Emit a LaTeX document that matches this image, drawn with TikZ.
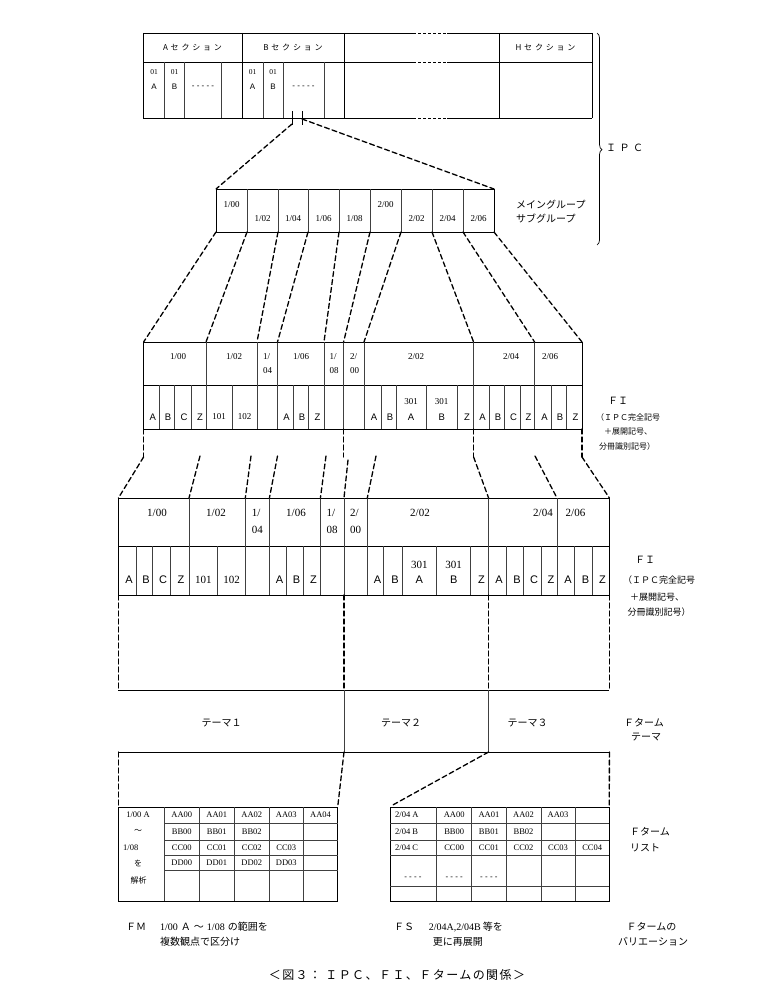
\documentclass[tikz,border=0pt]{standalone}
\usepackage{fontspec}
\setmainfont{Liberation Serif}
\setsansfont{Liberation Sans}
\newfontfamily\jp{Noto Sans CJK JP}
\newfontfamily\jpwide[LetterSpace=35]{Noto Sans CJK JP}
\newfontfamily\jpcap[LetterSpace=12]{Noto Sans CJK JP}
\usepackage{tikz}
\usepackage{tkz-euclide}
\usetikzlibrary{decorations.pathreplacing}

\begin{document}
\begin{tikzpicture}[x=1pt, y=-1pt,
    tabline/.style={line width=0.9pt},
    cellline/.style={line width=0.6pt, black!75},
    gapline/.style={line width=0.6pt, dash pattern=on 3pt off 2pt},
    cutline/.style={line width=1.3pt, dash pattern=on 5pt off 3pt},
    sec/.style={inner sep=0pt, font=\jpwide\fontsize{8}{9}\selectfont},
    tnum/.style={inner sep=0pt, font=\fontsize{7.5}{9}\selectfont},
    tlet/.style={inner sep=0pt, font=\sffamily\fontsize{8}{9}\selectfont},
    gnum/.style={inner sep=0pt, font=\fontsize{9}{9}\selectfont},
    num/.style={inner sep=0pt, align=left, font=\fontsize{9}{14}\selectfont},
    let/.style={inner sep=0pt, font=\sffamily\fontsize{9.5}{10}\selectfont},
    bnum/.style={inner sep=0pt, align=left, font=\fontsize{11}{17}\selectfont},
    blet/.style={inner sep=0pt, font=\sffamily\fontsize{11}{12}\selectfont},
    lst/.style={inner sep=0pt, font=\fontsize{8.5}{9}\selectfont},
    jsm/.style={inner sep=0pt, font=\jp\fontsize{8}{9}\selectfont},
    jmd/.style={inner sep=0pt, font=\jp\fontsize{9}{10}\selectfont},
    jlab/.style={inner sep=0pt, font=\jp\fontsize{10}{11}\selectfont},
    captxt/.style={inner sep=0pt, font=\jpcap\fontsize{12}{13}\selectfont}]
    \useasboundingbox (0,0) rectangle (757,990);

    \draw[tabline] (143,33) -- (413,33) (447,33) -- (592,33);
    \draw[tabline] (143,62) -- (413,62) (447,62) -- (592,62);
    \draw[tabline] (143,118) -- (413,118) (447,118) -- (592,118);
    \draw[gapline] (413,33) -- (447,33) (413,62) -- (447,62) (413,118) -- (447,118);
    \draw[tabline] (143,33) -- (143,118) (242,33) -- (242,118) (344,33) -- (344,118)
                 (499,33) -- (499,118) (592,33) -- (592,118);
    \draw[cellline] (164.5,62) -- (164.5,118) (184.5,62) -- (184.5,118) (221,62) -- (221,118)
                 (263,62) -- (263,118) (283,62) -- (283,118) (324,62) -- (324,118);
    \draw[tabline] (292,111) -- (292,125) (302,111) -- (302,125);

    \node[sec] (sa) at (192.5,47.5) {Aセクション};
    \node[sec] (sb) at (293,47.5) {Bセクション};
    \node[sec] (sh) at (545.5,47.5) {Hセクション};
    \node[tnum] (a1) at (154,72) {01};
    \node[tlet] (a2) at (154,87) {A};
    \node[tnum] (a3) at (174.5,72) {01};
    \node[tlet] (a4) at (174.5,87) {B};
    \node[tlet] (a5) at (203,87) {- - - - -};
    \node[tnum] (b1) at (252.5,72) {01};
    \node[tlet] (b2) at (252.5,87) {A};
    \node[tnum] (b3) at (273,72) {01};
    \node[tlet] (b4) at (273,87) {B};
    \node[tlet] (b5) at (303.5,87) {- - - - -};

    \draw[decorate, decoration={brace, amplitude=5pt, aspect=0.55}, line width=0.7pt]
        (597,33) -- (597,245);
    \node[sec, font=\jpwide\fontsize{10}{11}\selectfont, anchor=west] (ipc) at (606,148) {ＩＰＣ};

    \draw[tabline] (216,189) rectangle (494,232);
    \draw[cellline] (247,189) -- (247,232) (278,189) -- (278,232) (308,189) -- (308,232)
                 (339,189) -- (339,232) (370,189) -- (370,232) (401,189) -- (401,232)
                 (432,189) -- (432,232) (463,189) -- (463,232);
    \node[gnum] (g1) at (231.5,205) {1/00};
    \node[gnum] (g2) at (262.5,219) {1/02};
    \node[gnum] (g3) at (293,219) {1/04};
    \node[gnum] (g4) at (323.5,219) {1/06};
    \node[gnum] (g5) at (354.5,219) {1/08};
    \node[gnum] (g6) at (385.5,205) {2/00};
    \node[gnum] (g7) at (416.5,219) {2/02};
    \node[gnum] (g8) at (447.5,219) {2/04};
    \node[gnum] (g9) at (478.5,219) {2/06};
    \node[jlab, anchor=west] (mg) at (516,205) {メイングループ};
    \node[jlab, anchor=west] (sg) at (516,219) {サブグループ};

    \draw[tabline] (143.6,342) rectangle (582,429);
    \draw[tabline] (143.6,385) -- (582,385);
    \draw[cellline] (206,342) -- (206,429) (257,342) -- (257,429) (277.5,342) -- (277.5,429)
                 (324,342) -- (324,429) (343.6,342) -- (343.6,429) (364,342) -- (364,429)
                 (473.6,342) -- (473.6,429) (534.6,342) -- (534.6,429);
    \draw[cellline] (159,385) -- (159,429) (174,385) -- (174,429) (191,385) -- (191,429)
                 (232,385) -- (232,429) (293,385) -- (293,429) (308,385) -- (308,429)
                 (381,385) -- (381,429) (396,385) -- (396,429) (426,385) -- (426,429)
                 (457.5,385) -- (457.5,429) (489,385) -- (489,429) (504,385) -- (504,429)
                 (520,385) -- (520,429) (551,385) -- (551,429) (566,385) -- (566,429);
    \node[num] (c1) at (178,357) {1/00};
    \node[num] (c2) at (234,357) {1/02};
    \node[num] (c3) at (267.5,364) {1/\\04};
    \node[num] (c4) at (301,357) {1/06};
    \node[num] (c5) at (334,364) {1/\\08};
    \node[num] (c6) at (354.5,364) {2/\\00};
    \node[num] (c7) at (416,357) {2/02};
    \node[num] (c8) at (511,357) {2/04};
    \node[num] (c9) at (550,357) {2/06};
    \node[let] (d1) at (152.8,417) {A};
    \node[let] (d2) at (168,417) {B};
    \node[let] (d3) at (184,417) {C};
    \node[let] (d4) at (200,417) {Z};
    \node[num] (d5) at (219,417) {101};
    \node[num] (d6) at (244.5,417) {102};
    \node[let] (d7) at (286.5,417) {A};
    \node[let] (d8) at (302,417) {B};
    \node[let] (d9) at (317.5,417) {Z};
    \node[let] (d10) at (374,417) {A};
    \node[let] (d11) at (390,417) {B};
    \node[num] (d12) at (411,402) {301};
    \node[let] (d13) at (411,417) {A};
    \node[num] (d14) at (441.7,402) {301};
    \node[let] (d15) at (441.7,417) {B};
    \node[let] (d16) at (467,417) {Z};
    \node[let] (d17) at (482.5,417) {A};
    \node[let] (d18) at (498,417) {B};
    \node[let] (d19) at (513.5,417) {C};
    \node[let] (d20) at (528.5,417) {Z};
    \node[let] (d21) at (544.5,417) {A};
    \node[let] (d22) at (560,417) {B};
    \node[let] (d23) at (575.5,417) {Z};
    \node[jlab] (fi) at (618,401) {ＦＩ};
    \node[jsm] (fi1) at (628,417) {（ＩＰＣ完全記号};
    \node[jsm] (fi2) at (628,432) {＋展開記号、};
    \node[jsm] (fi3) at (627,446) {分冊識別記号）};

    \draw[tabline] (118.4,498) rectangle (609.4,595);
    \draw[tabline] (118.4,546) -- (609.4,546);
    \draw[cellline] (189,498) -- (189,595) (245.3,498) -- (245.3,595) (269.4,498) -- (269.4,595)
                 (320.4,498) -- (320.4,595) (344,498) -- (344,595) (367.3,498) -- (367.3,595)
                 (488.6,498) -- (488.6,595) (557,498) -- (557,595);
    \draw[cellline] (136,546) -- (136,595) (152,546) -- (152,595) (170,546) -- (170,595)
                 (217.6,546) -- (217.6,595) (286,546) -- (286,595) (303,546) -- (303,595)
                 (383.7,546) -- (383.7,595) (402,546) -- (402,595) (436.7,546) -- (436.7,595)
                 (470.6,546) -- (470.6,595) (506,546) -- (506,595) (523.7,546) -- (523.7,595)
                 (540.8,546) -- (540.8,595) (574.7,546) -- (574.7,595) (592,546) -- (592,595);
    \node[bnum] (e1) at (157,513) {1/00};
    \node[bnum] (e2) at (216,513) {1/02};
    \node[bnum] (e3) at (257.3,521.5) {1/\\04};
    \node[bnum] (e4) at (296,513) {1/06};
    \node[bnum] (e5) at (332.2,521.5) {1/\\08};
    \node[bnum] (e6) at (355.6,521.5) {2/\\00};
    \node[bnum] (e7) at (420,513) {2/02};
    \node[bnum] (e8) at (543,513) {2/04};
    \node[bnum] (e9) at (575.5,513) {2/06};
    \node[blet] (f1) at (129,580) {A};
    \node[blet] (f2) at (146,580) {B};
    \node[blet] (f3) at (163,580) {C};
    \node[blet] (f4) at (181,580) {Z};
    \node[bnum] (f5) at (203.3,580) {101};
    \node[bnum] (f6) at (231.5,580) {102};
    \node[blet] (f7) at (279.5,580) {A};
    \node[blet] (f8) at (296.5,580) {B};
    \node[blet] (f9) at (313.5,580) {Z};
    \node[blet] (f10) at (377.5,580) {A};
    \node[blet] (f11) at (395,580) {B};
    \node[bnum] (f12) at (419.4,565) {301};
    \node[blet] (f13) at (419.4,580) {A};
    \node[bnum] (f14) at (453.7,565) {301};
    \node[blet] (f15) at (453.7,580) {B};
    \node[blet] (f16) at (481.5,580) {Z};
    \node[blet] (f17) at (499,580) {A};
    \node[blet] (f18) at (517,580) {B};
    \node[blet] (f19) at (534,580) {C};
    \node[blet] (f20) at (551,580) {Z};
    \node[blet] (f21) at (568,580) {A};
    \node[blet] (f22) at (585.5,580) {B};
    \node[blet] (f23) at (602.5,580) {Z};
    \node[jlab] (fj) at (645,560) {ＦＩ};
    \node[jmd] (fj1) at (659,580) {（ＩＰＣ完全記号};
    \node[jmd] (fj2) at (657,597) {＋展開記号、};
    \node[jmd] (fj3) at (659,612) {分冊識別記号）};

    \draw[tabline] (118.4,690) -- (609.4,690) (118.4,752) -- (609.4,752);
    \draw[cellline] (344,690) -- (344,752) (488.6,690) -- (488.6,752);
    \node[jlab] (t1) at (221.5,723) {テーマ１};
    \node[jlab] (t2) at (401,723) {テーマ２};
    \node[jlab] (t3) at (527.6,723) {テーマ３};
    \node[jlab] (ft) at (644,723) {Ｆターム};
    \node[jlab] (ft2) at (646,737) {テーマ};

    \draw[tabline] (118.3,807) rectangle (337.7,901);
    \draw[cellline] (164.3,807) -- (164.3,901) (199.3,807) -- (199.3,901) (234.3,807) -- (234.3,901)
                 (269.3,807) -- (269.3,901) (303.3,807) -- (303.3,901);
    \draw[cellline] (164.3,823.5) -- (337.7,823.5) (164.3,840) -- (337.7,840)
                 (164.3,855.5) -- (337.7,855.5) (164.3,870.7) -- (337.7,870.7);
    \node[lst] (p1) at (138,815.2) {1/00 A};
    \node[jsm] (p2) at (138,831.7) {～};
    \node[lst, anchor=west] (p3) at (123,847.7) {1/08};
    \node[jsm] (p4) at (138,863.1) {を};
    \node[jsm] (p5) at (138.5,880) {解析};
    \node[lst] (q1) at (181.8,815.2) {AA00};
    \node[lst] (q2) at (216.8,815.2) {AA01};
    \node[lst] (q3) at (251.8,815.2) {AA02};
    \node[lst] (q4) at (286.3,815.2) {AA03};
    \node[lst] (q5) at (320.5,815.2) {AA04};
    \node[lst] (q6) at (181.8,831.7) {BB00};
    \node[lst] (q7) at (216.8,831.7) {BB01};
    \node[lst] (q8) at (251.8,831.7) {BB02};
    \node[lst] (q9) at (181.8,847.7) {CC00};
    \node[lst] (q10) at (216.8,847.7) {CC01};
    \node[lst] (q11) at (251.8,847.7) {CC02};
    \node[lst] (q12) at (286.3,847.7) {CC03};
    \node[lst] (q13) at (181.8,863.1) {DD00};
    \node[lst] (q14) at (216.8,863.1) {DD01};
    \node[lst] (q15) at (251.8,863.1) {DD02};
    \node[lst] (q16) at (286.3,863.1) {DD03};

    \draw[tabline] (390,807) rectangle (609.3,901);
    \draw[cellline] (436.7,807) -- (436.7,901) (471.7,807) -- (471.7,901) (506,807) -- (506,901)
                 (541,807) -- (541,901) (575,807) -- (575,901);
    \draw[cellline] (390,823.5) -- (609.3,823.5) (390,840) -- (609.3,840)
                 (390,855.5) -- (609.3,855.5) (390,886) -- (609.3,886);
    \node[lst, anchor=west] (r1) at (395,815.2) {2/04 A};
    \node[lst, anchor=west] (r2) at (395,831.7) {2/04 B};
    \node[lst, anchor=west] (r3) at (395,847.7) {2/04 C};
    \node[lst] (v1) at (454.2,815.2) {AA00};
    \node[lst] (v2) at (488.9,815.2) {AA01};
    \node[lst] (v3) at (523.5,815.2) {AA02};
    \node[lst] (v4) at (558,815.2) {AA03};
    \node[lst] (v5) at (454.2,831.7) {BB00};
    \node[lst] (v6) at (488.9,831.7) {BB01};
    \node[lst] (v7) at (523.5,831.7) {BB02};
    \node[lst] (v8) at (454.2,847.7) {CC00};
    \node[lst] (v9) at (488.9,847.7) {CC01};
    \node[lst] (v10) at (523.5,847.7) {CC02};
    \node[lst] (v11) at (558,847.7) {CC03};
    \node[lst] (v12) at (592.2,847.7) {CC04};
    \node[tlet] (v13) at (413,878) {- - - -};
    \node[tlet] (v14) at (454.2,878) {- - - -};
    \node[tlet] (v15) at (488.9,878) {- - - -};
    \node[jlab, anchor=west] (fl) at (630,832) {Ｆターム};
    \node[jlab, anchor=west] (fl2) at (630,848) {リスト};

    \node[jlab, anchor=west] (fm) at (126,927) {ＦＭ};
    \node[jlab, anchor=west] (fm1) at (160,927)
        {{\rmfamily 1/00}\hspace{3pt}Ａ\hspace{3pt}～\hspace{3pt}{\rmfamily 1/08}\hspace{3pt}の範囲を};
    \node[jlab, anchor=west] (fm2) at (160,942) {複数観点で区分け};
    \node[jlab, anchor=west] (fs) at (394,927) {ＦＳ};
    \node[jlab, anchor=west] (fs1) at (428.6,927) {{\rmfamily 2/04A,2/04B}\hspace{2pt}等を};
    \node[jlab, anchor=west] (fs2) at (432.6,942) {更に再展開};
    \node[jlab, anchor=west] (fv) at (626.5,927) {Ｆタームの};
    \node[jlab, anchor=west] (fv2) at (618,942) {バリエーション};
    \node[captxt] (title) at (397,975) {＜図３： ＩＰＣ、ＦＩ、Ｆタームの関係＞};

    \tkzDefPoint(292,124){U}
    \tkzDefPoint(302,119){V}
    \tkzDefPoint(216,189){P}
    \tkzDefPoint(494,189){Q}
    \tkzDrawSegments[cutline](U,P V,Q)

    \tkzDefPoint(216,232){g0}
    \tkzDefPoint(247,232){g1}
    \tkzDefPoint(278,232){g2}
    \tkzDefPoint(308,232){g3}
    \tkzDefPoint(339,232){g4}
    \tkzDefPoint(370,232){g5}
    \tkzDefPoint(401,232){g6}
    \tkzDefPoint(432,232){g7}
    \tkzDefPoint(463,232){g8}
    \tkzDefPoint(494,232){g9}
    \tkzDefPoint(143.6,342){h0}
    \tkzDefPoint(206,342){h1}
    \tkzDefPoint(257,342){h2}
    \tkzDefPoint(277.5,342){h3}
    \tkzDefPoint(324,342){h4}
    \tkzDefPoint(343.6,342){h5}
    \tkzDefPoint(364,342){h6}
    \tkzDefPoint(473.6,342){h7}
    \tkzDefPoint(534.6,342){h8}
    \tkzDefPoint(582,342){h9}
    \tkzDrawSegments[cutline](g0,h0 g1,h1 g2,h2 g3,h3 g4,h4 g5,h5 g6,h6 g7,h7 g8,h8 g9,h9)

    \tkzDefPoint(143.6,429){m0}
    \tkzDefPoint(343.6,429){m1}
    \tkzDefPoint(473.6,429){m2}
    \tkzDefPoint(582,429){m3}
    \tkzDefPoint(143.6,457){n0}
    \tkzDefPoint(343.6,457){n1}
    \tkzDefPoint(473.6,457){n2}
    \tkzDefPoint(582,457){n3}
    \tkzDrawSegments[cutline](m0,n0 m1,n1 m2,n2 m3,n3)

    \tkzDefPoint(200,456){s1}
    \tkzDefPoint(251,456){s2}
    \tkzDefPoint(277.5,456){s3}
    \tkzDefPoint(326,456){s4}
    \tkzDefPoint(348,460){s5}
    \tkzDefPoint(376,456){s6}
    \tkzDefPoint(535,456){s8}
    \tkzDefPoint(118.4,498){k0}
    \tkzDefPoint(189,498){k1}
    \tkzDefPoint(245.3,498){k2}
    \tkzDefPoint(269.4,498){k3}
    \tkzDefPoint(320.4,498){k4}
    \tkzDefPoint(344,498){k5}
    \tkzDefPoint(367.3,498){k6}
    \tkzDefPoint(488.6,498){k7}
    \tkzDefPoint(557,498){k8}
    \tkzDefPoint(609.4,498){k9}
    \tkzDrawSegments[cutline](n0,k0 s1,k1 s2,k2 s3,k3 s4,k4 s5,k5 s6,k6 n2,k7 s8,k8 n3,k9)

    \tkzDefPoint(118.4,595){e0}
    \tkzDefPoint(344,595){e1}
    \tkzDefPoint(488.6,595){e2}
    \tkzDefPoint(609.4,595){e3}
    \tkzDefPoint(118.4,690){f0}
    \tkzDefPoint(344,690){f1}
    \tkzDefPoint(488.6,690){f2}
    \tkzDefPoint(609.4,690){f3}
    \tkzDrawSegments[cutline](e0,f0 e1,f1 e2,f2 e3,f3)

    \tkzDefPoint(118.4,752){u0}
    \tkzDefPoint(344,752){u1}
    \tkzDefPoint(488.6,752){u2}
    \tkzDefPoint(609.4,752){u3}
    \tkzDefPoint(118.4,807){w0}
    \tkzDefPoint(337.7,807){w1}
    \tkzDefPoint(391,806){w2}
    \tkzDefPoint(609.3,807){w3}
    \tkzDrawSegments[cutline](u0,w0 u1,w1 u2,w2 u3,w3)
\end{tikzpicture}
\end{document}
